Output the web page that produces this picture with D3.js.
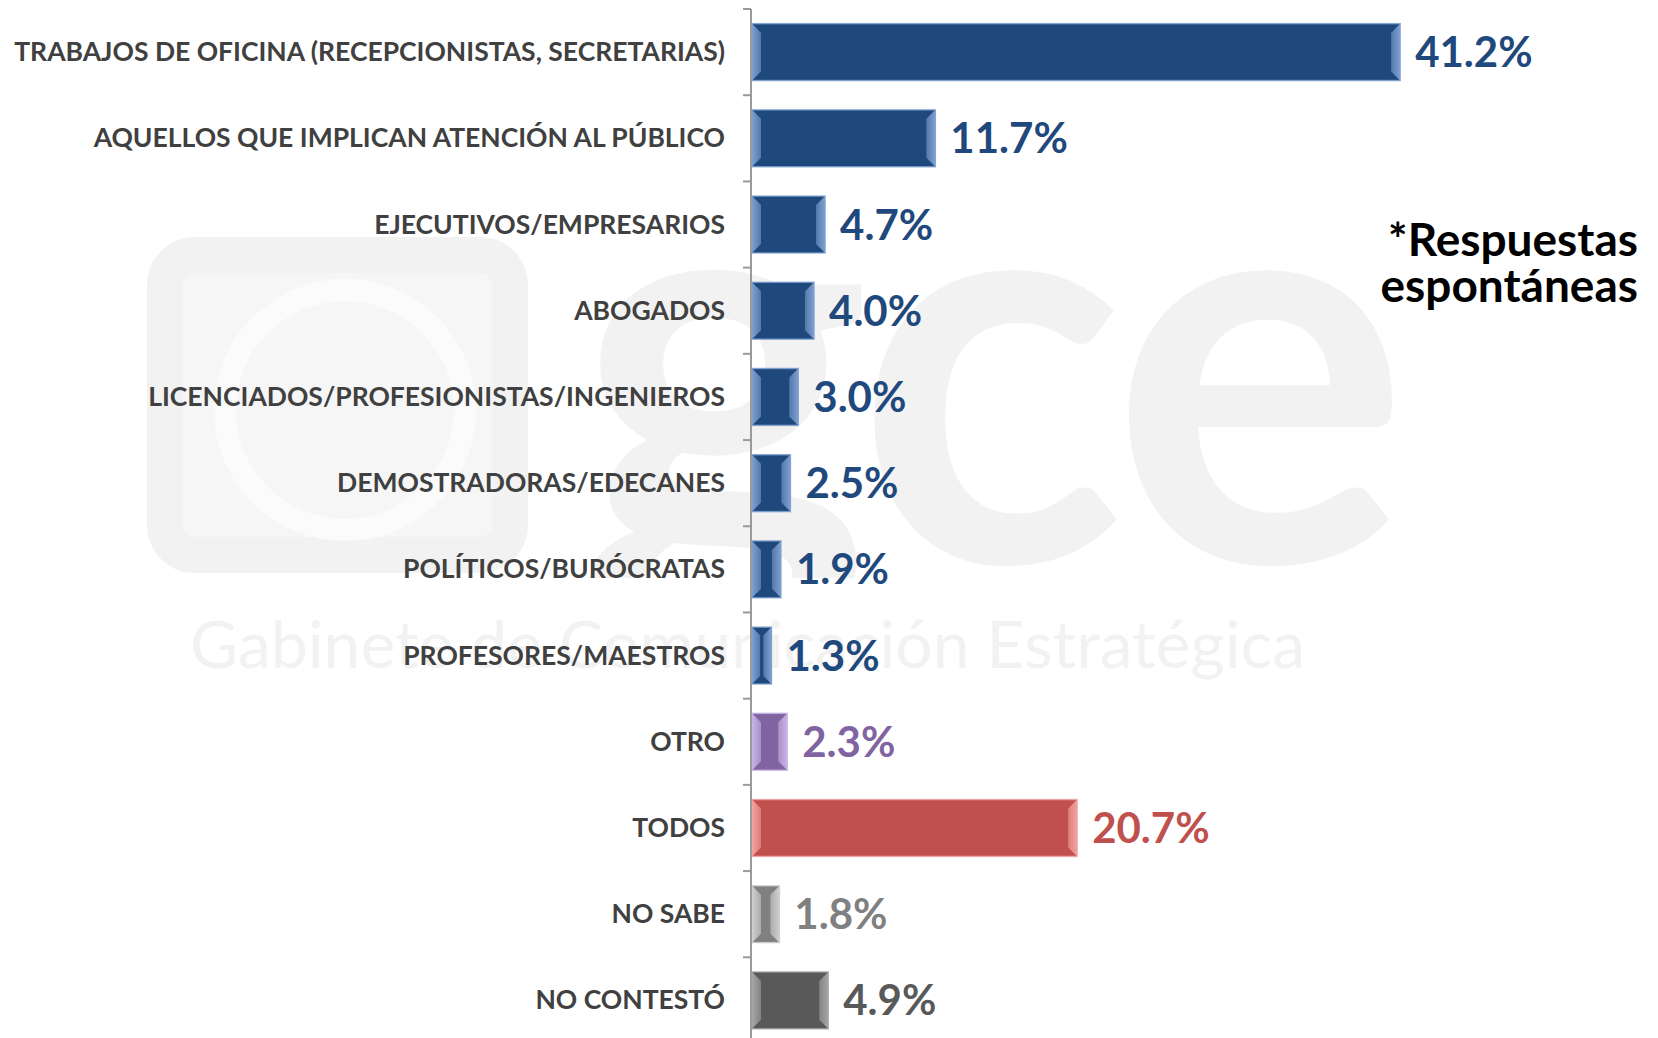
<!DOCTYPE html>
<html lang="es">
<head>
<meta charset="UTF-8">
<title>Ocupaciones</title>
<script src="https://d3js.org/d3.v7.min.js"></script>
<style>
  body { margin: 0; background: #fff; }
  svg { display: block; }
  .cat { font-family: Lato, sans-serif; font-weight: 700; fill: #404040; }
  .val { font-family: Lato, sans-serif; font-weight: 700; }
  .note { font-family: Lato, sans-serif; font-weight: 700; fill: #000; }
  .wm { font-family: Lato, sans-serif; fill: #f2f2f2; }
</style>
</head>
<body>
<div id="chart"></div>
<script>
const categories = [
  "TRABAJOS DE OFICINA (RECEPCIONISTAS, SECRETARIAS)",
  "AQUELLOS QUE IMPLICAN ATENCIÓN AL PÚBLICO",
  "EJECUTIVOS/EMPRESARIOS",
  "ABOGADOS",
  "LICENCIADOS/PROFESIONISTAS/INGENIEROS",
  "DEMOSTRADORAS/EDECANES",
  "POLÍTICOS/BURÓCRATAS",
  "PROFESORES/MAESTROS",
  "OTRO",
  "TODOS",
  "NO SABE",
  "NO CONTESTÓ"
];
const values = [41.2, 11.7, 4.7, 4.0, 3.0, 2.5, 1.9, 1.3, 2.3, 20.7, 1.8, 4.9];
const noteLines = ["*Respuestas", "espontáneas"];

const width = 1658, height = 1038;

const svg = d3.select("#chart").append("svg")
    .attr("width", width)
    .attr("height", height);

const defs = svg.append("defs");

// faint watermark (logo behind the chart)
defs.append("clipPath").attr("id", "wmclip")
  .append("rect").attr("x", 0).attr("y", 0).attr("width", width).attr("height", 578);
const wm = svg.append("g").attr("class", "wm");
wm.append("rect")
    .attr("x", 165).attr("y", 255).attr("width", 345).attr("height", 300)
    .attr("rx", 30).attr("fill", "#f6f6f6").attr("stroke", "#f2f2f2").attr("stroke-width", 36);
wm.append("circle")
    .attr("cx", 345).attr("cy", 410).attr("r", 120)
    .attr("fill", "none").attr("stroke", "#fbfbfb").attr("stroke-width", 22);
wm.append("text")
    .attr("x", 575).attr("y", 562)
    .attr("clip-path", "url(#wmclip)")
    .style("font-size", "560px").style("font-weight", 700)
    .style("letter-spacing", "-10px")
    .text("gce");
wm.append("text")
    .attr("x", 190).attr("y", 668)
    .style("font-size", "66px")
    .text("Gabinete de Comunicación Estratégica");

const x = d3.scaleLinear().domain([0, 45]).range([751, 1460]);
const y = d3.scaleBand().domain(categories).range([9, 1043.5])
    .paddingInner(0.34).paddingOuter(0.17);

const color = d3.scaleOrdinal().domain(categories).range([
  "#1F497D", "#1F497D", "#1F497D", "#1F497D", "#1F497D", "#1F497D", "#1F497D", "#1F497D",
  "#8064A2", "#C0504D", "#808080", "#595959"
]);
const light = d3.scaleOrdinal().domain(categories).range([
  "#7ea0d0", "#7ea0d0", "#7ea0d0", "#7ea0d0", "#7ea0d0", "#7ea0d0", "#7ea0d0", "#7ea0d0",
  "#c8b4e6", "#f3a3a0", "#cfcfcf", "#a6a6a6"
]);

const data = categories.map((c, i) => ({cat: c, value: values[i]}));

// gradients for bevel sides
data.forEach((d, i) => {
  const mid = d3.interpolateRgb(light(d.cat), color(d.cat))(0.45);
  const gl = defs.append("linearGradient").attr("id", "bl" + i);
  gl.append("stop").attr("offset", "0%").attr("stop-color", light(d.cat));
  gl.append("stop").attr("offset", "100%").attr("stop-color", mid);
  const gr = defs.append("linearGradient").attr("id", "br" + i);
  gr.append("stop").attr("offset", "0%").attr("stop-color", mid);
  gr.append("stop").attr("offset", "100%").attr("stop-color", light(d.cat));
});

const bars = svg.append("g").selectAll("g")
    .data(data)
    .join("g");

bars.each(function(d, i) {
  const g = d3.select(this);
  const x0 = x(0) + 1, x1 = x(d.value);
  const y0 = y(d.cat), y1 = y(d.cat) + y.bandwidth();
  const b = Math.min(9, (x1 - x0) / 2.4);
  g.append("rect")
      .attr("x", x0).attr("y", y0)
      .attr("width", x1 - x0).attr("height", y1 - y0)
      .attr("fill", color(d.cat));
  g.append("path")
      .attr("d", `M${x0},${y0}L${x0 + b},${y0 + b}L${x0 + b},${y1 - b}L${x0},${y1}Z`)
      .attr("fill", `url(#bl${i})`);
  g.append("path")
      .attr("d", `M${x1},${y0}L${x1 - b},${y0 + b}L${x1 - b},${y1 - b}L${x1},${y1}Z`)
      .attr("fill", `url(#br${i})`);
  g.append("rect")
      .attr("x", x0).attr("y", y0)
      .attr("width", x1 - x0).attr("height", y1 - y0)
      .attr("fill", "none")
      .attr("stroke", light(d.cat))
      .attr("stroke-opacity", 0.8)
      .attr("stroke-width", 1.5);
});

// value labels
bars.append("text")
    .attr("class", "val")
    .attr("x", d => x(d.value) + 15)
    .attr("y", d => y(d.cat) + y.bandwidth() / 2 + 15)
    .style("font-size", "42px")
    .attr("fill", d => color(d.cat))
    .text(d => d.value.toFixed(1) + "%");

// category axis (ticks between bands)
const axis = svg.append("g");
const step = y.step();
const tickYs = categories.map(c => y(c) - step * y.paddingInner() / 2);
axis.append("line")
    .attr("x1", x(0)).attr("x2", x(0))
    .attr("y1", tickYs[0]).attr("y2", height)
    .attr("stroke", "#9a9a9a").attr("stroke-width", 2);
axis.selectAll(".tick")
    .data(tickYs)
    .join("line")
    .attr("x1", x(0) - 8).attr("x2", x(0))
    .attr("y1", d => d).attr("y2", d => d)
    .attr("stroke", "#9a9a9a").attr("stroke-width", 2);

axis.selectAll(".cat")
    .data(categories)
    .join("text")
    .attr("class", "cat")
    .attr("x", 725)
    .attr("y", d => y(d) + y.bandwidth() / 2 + 9)
    .attr("text-anchor", "end")
    .style("font-size", "26.5px")
    .text(d => d);

// note
svg.append("g").selectAll("text")
    .data(noteLines)
    .join("text")
    .attr("class", "note")
    .attr("x", 1638)
    .attr("y", (d, i) => 256 + i * 46)
    .attr("text-anchor", "end")
    .style("font-size", "46px")
    .text(d => d);
</script>
</body>
</html>
